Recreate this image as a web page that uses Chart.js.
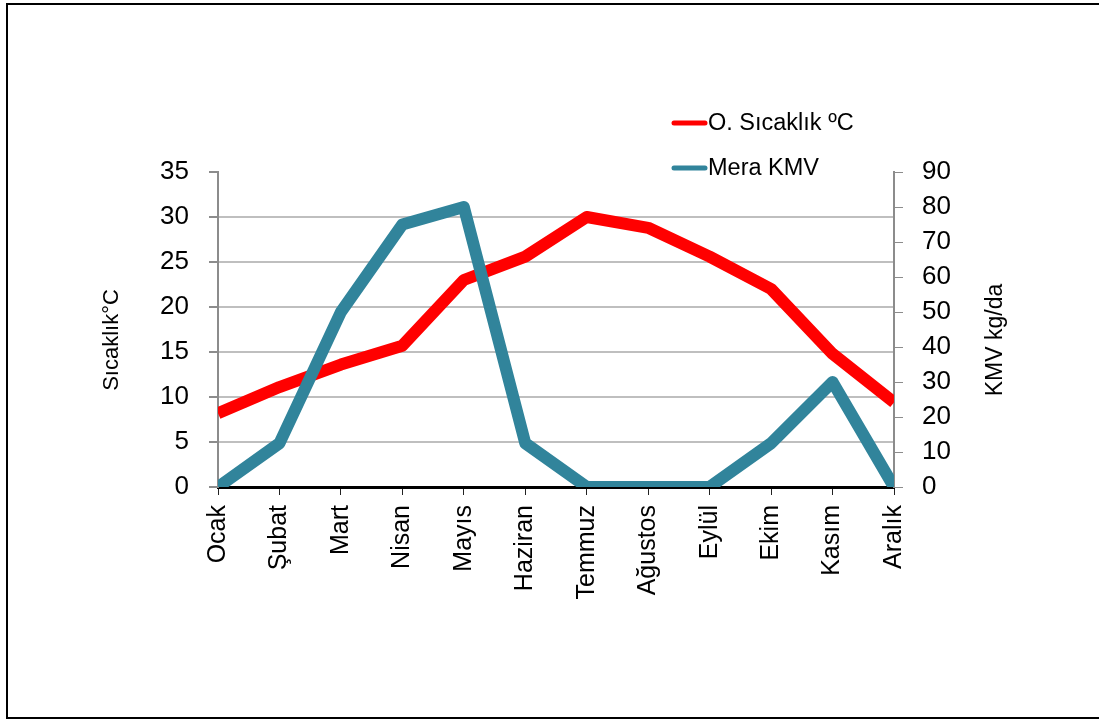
<!DOCTYPE html>
<html lang="tr">
<head>
<meta charset="utf-8">
<title>Sıcaklık ve Mera KMV</title>
<script src="https://cdn.jsdelivr.net/npm/chart.js@4.4.1/dist/chart.umd.min.js"></script>
<style>
  html, body { margin: 0; padding: 0; background: #ffffff; }
  #wrap { position: relative; width: 1099px; height: 719px; }
  canvas { display: block; }
</style>
</head>
<body>
<div id="wrap"><canvas id="chart" width="1099" height="719"></canvas></div>
<script>
// Months on the category axis
const months = ['Ocak', 'Şubat', 'Mart', 'Nisan', 'Mayıs', 'Haziran', 'Temmuz', 'Ağustos', 'Eylül', 'Ekim', 'Kasım', 'Aralık'];

// Mean monthly temperature (°C), left axis
const temperature = [8.2, 11.1, 13.6, 15.7, 23.0, 25.6, 30.0, 28.8, 25.6, 22.0, 14.8, 9.4];

// Pasture dry matter yield (kg/da), right axis
const pastureYield = [0, 12.5, 50, 75, 80, 12.5, 0, 0, 0, 12.5, 30, 0];

// Axis ranges and tick steps
const tempAxis = { min: 0, max: 35, step: 5 };
const yieldAxis = { min: 0, max: 90, step: 10 };

// Series names and axis titles
const seriesNames = ['O. Sıcaklık ºC', 'Mera KMV'];
const leftTitle = 'Sıcaklık°C';
const rightTitle = 'KMV kg/da';

const FONT = '"Liberation Sans", Arial, sans-serif';

// Frame, axis titles and the legend block
const decor = {
  id: 'decor',
  afterDraw(chart) {
    const ctx = chart.ctx;
    ctx.save();
    // outer frame
    ctx.strokeStyle = '#000';
    ctx.lineWidth = 2;
    ctx.strokeRect(7, 4, 1200, 714);

    // rotated axis titles
    ctx.fillStyle = '#000';
    ctx.textAlign = 'center';
    ctx.textBaseline = 'middle';
    ctx.font = '22px ' + FONT;
    ctx.save();
    ctx.translate(112, 340);
    ctx.rotate(-Math.PI / 2);
    ctx.fillText(leftTitle, 0, 0);
    ctx.restore();
    ctx.font = '23px ' + FONT;
    ctx.save();
    ctx.translate(996, 340);
    ctx.rotate(-Math.PI / 2);
    ctx.fillText(rightTitle, 0, 0);
    ctx.restore();

    // legend
    const rows = [123, 168];
    chart.data.datasets.forEach((ds, i) => {
      const y = rows[i];
      ctx.strokeStyle = ds.borderColor;
      ctx.lineWidth = 5;
      ctx.lineCap = 'round';
      ctx.beginPath();
      ctx.moveTo(674, y);
      ctx.lineTo(705, y);
      ctx.stroke();
      ctx.fillStyle = '#000';
      ctx.textAlign = 'left';
      ctx.textBaseline = 'middle';
      ctx.font = '23.5px ' + FONT;
      ctx.fillText(ds.label, 708, y + 1);
    });
    ctx.restore();
  }
};

new Chart(document.getElementById('chart'), {
  type: 'line',
  data: {
    labels: months,
    datasets: [
      {
        label: seriesNames[0],
        data: temperature,
        yAxisID: 'y',
        borderColor: '#ff0000',
        backgroundColor: '#ff0000',
        borderWidth: 12,
        borderJoinStyle: 'round',
        pointRadius: 0,
        tension: 0,
        clip: 0,
        order: 1
      },
      {
        label: seriesNames[1],
        data: pastureYield,
        yAxisID: 'y1',
        borderColor: '#31849b',
        backgroundColor: '#31849b',
        borderWidth: 12,
        borderJoinStyle: 'round',
        pointRadius: 0,
        tension: 0,
        clip: 0,
        order: 0
      }
    ]
  },
  options: {
    responsive: false,
    animation: false,
    devicePixelRatio: 1,
    layout: { padding: { top: 172, left: 0, right: 0, bottom: 0 } },
    plugins: {
      legend: { display: false },
      tooltip: { enabled: false }
    },
    scales: {
      x: {
        type: 'category',
        offset: false,
        z: 1,
        grid: { drawOnChartArea: false, tickLength: 8, tickColor: '#222', tickWidth: 1 },
        border: { color: '#000', width: 3 },
        ticks: {
          autoSkip: false,
          minRotation: 90,
          maxRotation: 90,
          padding: 10,
          color: '#000',
          font: { family: FONT, size: 25 }
        },
        afterFit(scale) { scale.height = 232; }
      },
      y: {
        position: 'left',
        min: tempAxis.min,
        max: tempAxis.max,
        grid: {
          color: (c) => (c.tick && c.tick.value === tempAxis.max) ? 'rgba(0,0,0,0)' : '#bfbfbf',
          tickColor: '#8c8c8c',
          tickLength: 9,
          lineWidth: 2
        },
        border: { color: '#8c8c8c', width: 2 },
        ticks: {
          stepSize: tempAxis.step,
          padding: 20,
          color: '#000',
          font: { family: FONT, size: 26 }
        },
        afterFit(scale) { scale.width = 218; }
      },
      y1: {
        position: 'right',
        min: yieldAxis.min,
        max: yieldAxis.max,
        z: 1,
        grid: { drawOnChartArea: false, tickColor: '#8c8c8c', tickLength: 9 },
        border: { color: '#8c8c8c', width: 2 },
        ticks: {
          stepSize: yieldAxis.step,
          padding: 19,
          color: '#000',
          font: { family: FONT, size: 26 }
        },
        afterFit(scale) { scale.width = 205; }
      }
    }
  },
  plugins: [decor]
});
</script>
</body>
</html>
